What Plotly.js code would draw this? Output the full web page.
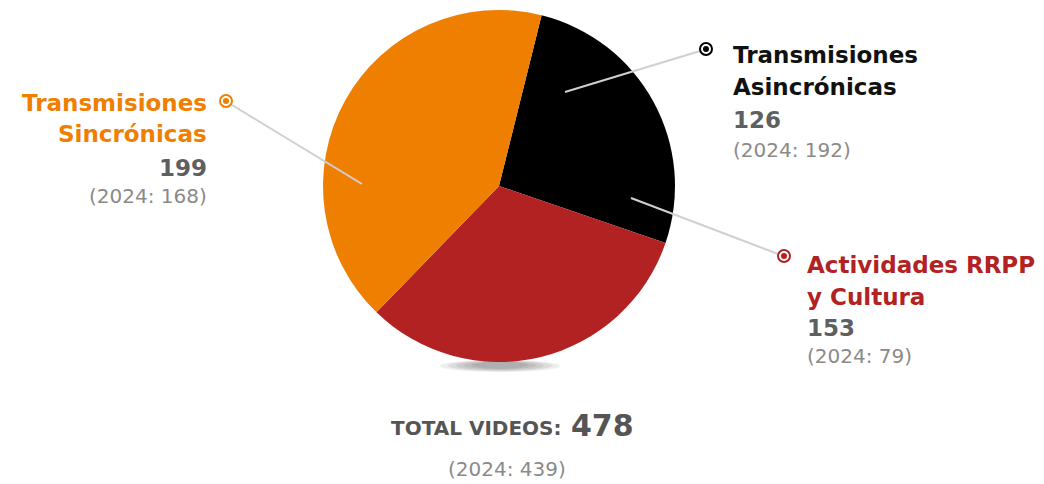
<!DOCTYPE html>
<html><head><meta charset="utf-8">
<script src="https://cdn.plot.ly/plotly-3.0.1.min.js"></script>
<style>html,body{margin:0;padding:0;background:#fff}#chart{width:1044px;height:484px}</style>
</head><body><div id="chart"></div>
<script>
const labels = ["Transmisiones Asincrónicas", "Actividades RRPP y Cultura", "Transmisiones Sincrónicas"];
const nameLines = [["Transmisiones", "Asincrónicas"], ["Actividades RRPP", "y Cultura"], ["Transmisiones", "Sincrónicas"]];
const values = [126, 153, 199];
const values2024 = [192, 79, 168];
const colors = ["#000000", "#B22222", "#EF7F00"];
const total = 478;
const total2024 = 439;

const W = 1044, H = 484;
const px = x => x / W;
const py = y => 1 - y / H;
const FONT = "'DejaVu Sans', 'Open Sans', sans-serif";

const trace = {
  type: "pie", labels: labels, values: values, sort: false, direction: "clockwise",
  rotation: 14, marker: {colors: colors, line: {width: 0}}, textinfo: "none", hoverinfo: "label+value",
  domain: {x: [px(323), px(675)], y: [py(362), py(10)]}, showlegend: false
};

const blocks = [
  {x: 731, anchor: "left", ys: [55, 87, 120, 150], marker: [706, 49], line: [[565, 92], [700, 51]]},
  {x: 805, anchor: "left", ys: [265, 297, 328, 356], marker: [784, 256], line: [[631, 198], [778, 254]]},
  {x: 209, anchor: "right", ys: [103, 134, 168, 196], marker: [226, 101], line: [[362, 184], [232, 105]]}
];

const annotations = [];
const shapes = [];
for (let i = 0; i < 5; i++) {
  shapes.push({type: "circle", xref: "paper", yref: "paper", layer: "below",
    x0: px(440 + i * 8), x1: px(560 - i * 8), y0: py(372 - i * 0.8), y1: py(360 + i * 0.4),
    fillcolor: "#000", opacity: 0.07, line: {width: 0}});
}
blocks.forEach((b, i) => {
  const c = i === 0 ? "#111" : colors[i];
  const lines = [nameLines[i][0], nameLines[i][1], String(values[i]), "(2024: " + values2024[i] + ")"];
  const fonts = [
    {family: FONT, size: 23, color: c, weight: 700},
    {family: FONT, size: 23, color: c, weight: 700},
    {family: FONT, size: 23, color: "#5f5f5f", weight: 700},
    {family: FONT, size: 20, color: "#8a8a8a", weight: 400}
  ];
  lines.forEach((t, j) => {
    annotations.push({text: t, x: px(b.x), y: py(b.ys[j]), xref: "paper", yref: "paper",
      xanchor: b.anchor, yanchor: "middle", showarrow: false, font: fonts[j]});
  });
  shapes.push({type: "line", xref: "paper", yref: "paper", x0: px(b.line[0][0]), y0: py(b.line[0][1]),
    x1: px(b.line[1][0]), y1: py(b.line[1][1]), line: {color: "#d0d0d0", width: 2}});
  const [mx, my] = b.marker;
  shapes.push({type: "circle", xref: "paper", yref: "paper", x0: px(mx - 6), x1: px(mx + 6), y0: py(my + 6), y1: py(my - 6),
    fillcolor: "#fff", line: {color: i === 0 ? "#000" : colors[i], width: 2}});
  shapes.push({type: "circle", xref: "paper", yref: "paper", x0: px(mx - 3), x1: px(mx + 3), y0: py(my + 3), y1: py(my - 3),
    fillcolor: i === 0 ? "#000" : colors[i], line: {width: 0}});
});
annotations.push({text: "TOTAL VIDEOS:", x: px(564), y: py(428), xref: "paper", yref: "paper", xanchor: "right", yanchor: "middle",
  showarrow: false, font: {family: FONT, size: 20, color: "#555555", weight: 700}});
annotations.push({text: String(total), x: px(569), y: py(425), xref: "paper", yref: "paper", xanchor: "left", yanchor: "middle",
  showarrow: false, font: {family: FONT, size: 30, color: "#555555", weight: 700}});
annotations.push({text: "(2024: " + total2024 + ")", x: px(507), y: py(469), xref: "paper", yref: "paper", xanchor: "center", yanchor: "middle",
  showarrow: false, font: {family: FONT, size: 20, color: "#8a8a8a", weight: 400}});

const layout = {width: W, height: H, margin: {l: 0, r: 0, t: 0, b: 0}, paper_bgcolor: "#fff", plot_bgcolor: "#fff",
  showlegend: false, annotations: annotations, shapes: shapes};
Plotly.newPlot("chart", [trace], layout, {displayModeBar: false, staticPlot: true});
</script></body></html>
